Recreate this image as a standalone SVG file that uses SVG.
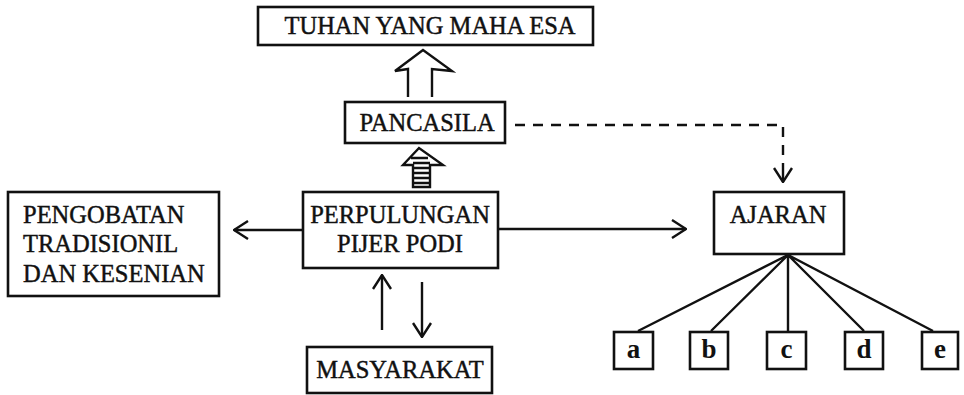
<svg xmlns="http://www.w3.org/2000/svg" width="964" height="395" viewBox="0 0 964 395">
<style>
.box{fill:#fff;stroke:#111;stroke-width:2.6}
.t{font-family:"Liberation Serif","Times New Roman",serif;font-size:24.5px;fill:#111;stroke:#111;stroke-width:0.45}
.tb{font-family:"Liberation Serif","Times New Roman",serif;font-size:27px;font-weight:bold;fill:#111}
.ln{fill:none;stroke:#111;stroke-width:2.4}
.dash{fill:none;stroke:#111;stroke-width:2.4;stroke-dasharray:10 8}
</style>
<defs>
<marker id="chev" viewBox="0 0 16 20" refX="15" refY="10" markerWidth="16" markerHeight="20" markerUnits="userSpaceOnUse" orient="auto">
<path d="M1,1 L15,10 L1,19" fill="none" stroke="#111" stroke-width="2.4"/>
</marker>
</defs>
<rect width="964" height="395" fill="#fff"/>
<g id="connectors">
<path class="ln" d="M408,97 L408,69 L395,71 L423,50 L452,71 L432,69 L432,97"/>
<path class="ln" d="M413,187 L413,165 L403,165 L419,148 L443,165 L430,165 L430,187 Z"/>
<path class="ln" d="M413,163 H430 M413,168 H430 M413,173 H430 M413,178 H430 M413,183 H430 M411,158 H428"/>
<path class="dash" d="M515,125 H783 V168"/>
<path class="ln" d="M783,168 V182" marker-end="url(#chev)"/>
<path class="ln" d="M303,230 H234" marker-end="url(#chev)"/>
<path class="ln" d="M498,229 H686" marker-end="url(#chev)"/>
<path class="ln" d="M382,330 V275" marker-end="url(#chev)"/>
<path class="ln" d="M422,282 V337" marker-end="url(#chev)"/>
<path class="ln" d="M788,255 L638,331 M788,255 L711,331 M788,255 L788,331 M788,255 L864,331 M788,255 L933,331"/>
</g>
<g id="tuhan">
<rect class="box" x="258" y="7" width="335" height="38"/>
<text class="t" x="430" y="34" text-anchor="middle" font-size="26">TUHAN YANG MAHA ESA</text>
</g>
<g id="pancasila">
<rect class="box" x="345" y="102" width="160" height="41"/>
<text class="t" x="427" y="131" text-anchor="middle" font-size="25.5">PANCASILA</text>
</g>
<g id="perpulungan">
<rect class="box" x="303" y="192" width="195" height="76"/>
<text class="t" x="400" y="223" text-anchor="middle">PERPULUNGAN</text>
<text class="t" x="400" y="252" text-anchor="middle">PIJER PODI</text>
</g>
<g id="pengobatan">
<rect class="box" x="8" y="192" width="211" height="104"/>
<text class="t" x="23" y="223">PENGOBATAN</text>
<text class="t" x="23" y="252">TRADISIONIL</text>
<text class="t" x="23" y="282">DAN KESENIAN</text>
</g>
<g id="masyarakat">
<rect class="box" x="307" y="347" width="185" height="46"/>
<text class="t" x="400" y="378" text-anchor="middle">MASYARAKAT</text>
</g>
<g id="ajaran">
<rect class="box" x="714" y="192" width="130" height="62"/>
<text class="t" x="778" y="223" text-anchor="middle">AJARAN</text>
</g>
<g id="node-a">
<rect class="box" x="614" y="332" width="39" height="37"/>
<text class="tb" x="633.5" y="358" text-anchor="middle">a</text>
</g>
<g id="node-b">
<rect class="box" x="690" y="332" width="38" height="37"/>
<text class="tb" x="709" y="358" text-anchor="middle">b</text>
</g>
<g id="node-c">
<rect class="box" x="767" y="332" width="39" height="37"/>
<text class="tb" x="786.5" y="358" text-anchor="middle">c</text>
</g>
<g id="node-d">
<rect class="box" x="845" y="332" width="38" height="37"/>
<text class="tb" x="864" y="358" text-anchor="middle">d</text>
</g>
<g id="node-e">
<rect class="box" x="922" y="332" width="36" height="37"/>
<text class="tb" x="940" y="358" text-anchor="middle">e</text>
</g>
</svg>
